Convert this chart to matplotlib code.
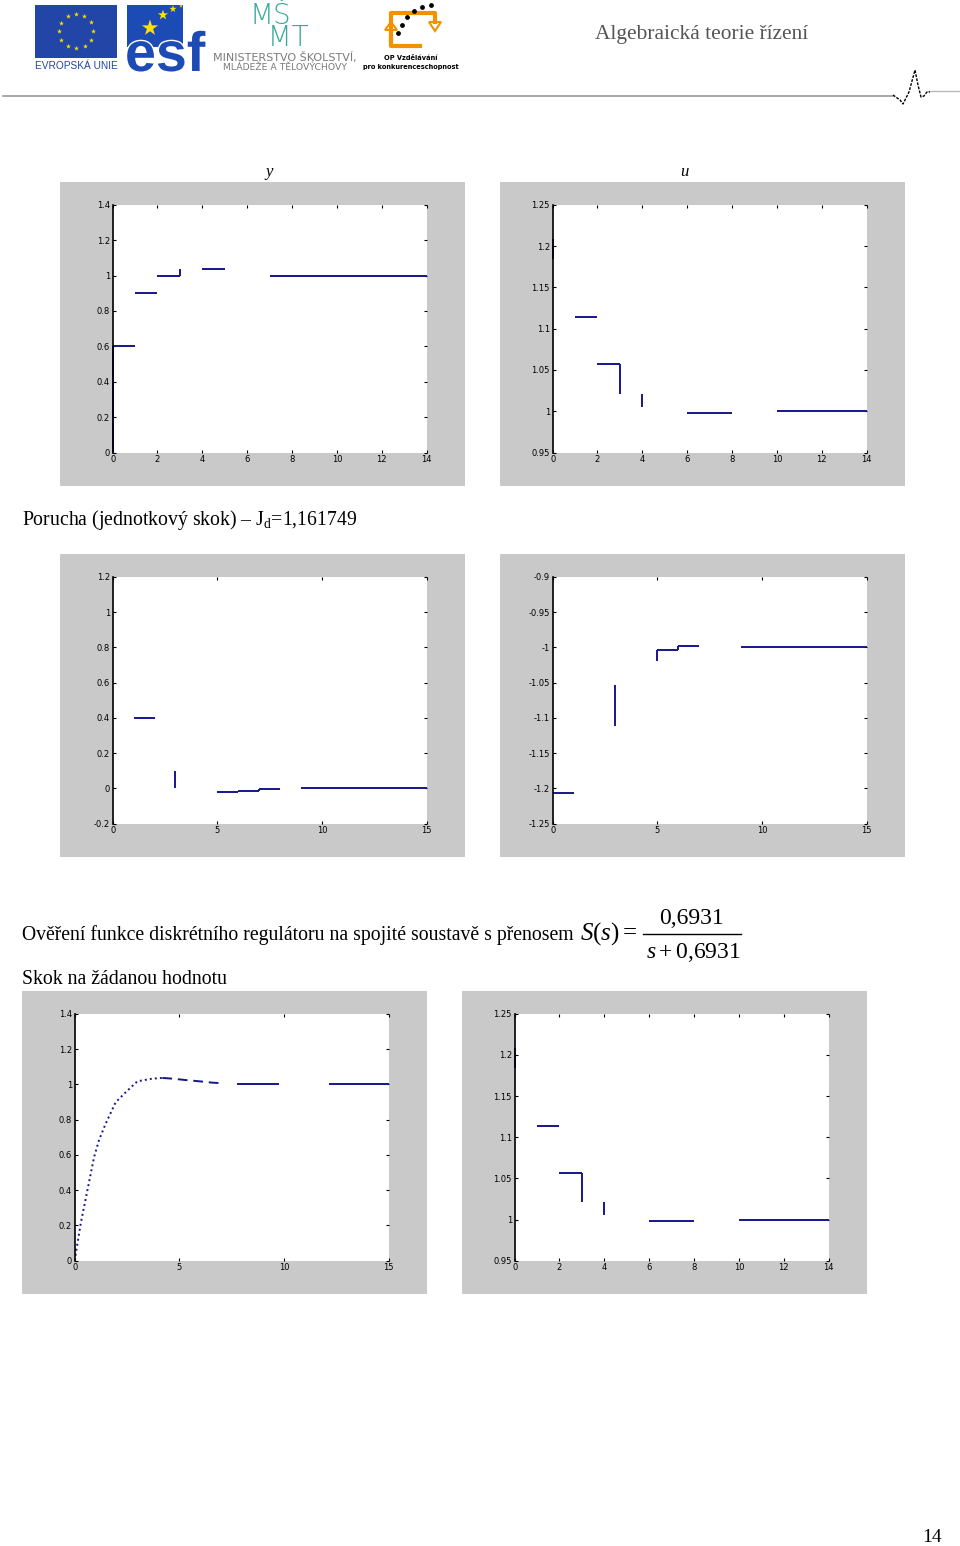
import numpy as np
import matplotlib
matplotlib.use("Agg")
import matplotlib.pyplot as plt
from matplotlib.patches import Rectangle, Polygon
from matplotlib.ticker import FuncFormatter
import matplotlib.patheffects as pe

plt.rcParams["mathtext.fontset"] = "custom"
plt.rcParams["mathtext.rm"] = "Liberation Serif"
plt.rcParams["mathtext.it"] = "Liberation Serif:italic"

nan = np.nan

# ---- discrete signals, value held on [k, k+1); nan = segment not visible in the scan ----
STEP_Y = [0.6, 0.9, 1.0, nan, 1.035, nan, nan, 1.0, 1.0, 1.0, 1.0, 1.0, 1.0, 1.0]
STEP_Y_JUMPS = [(0, 0.0, 0.6), (3, 1.0, 1.035)]
STEP_U = [nan, 1.114, 1.057, nan, nan, nan, 0.998, 0.998, nan, nan, 1.0, 1.0, 1.0, 1.0]
STEP_U_JUMPS = [(0, 1.184, 1.208), (3, 1.021, 1.057), (4, 1.005, 1.021)]
DIST_Y = [nan, 0.4, nan, nan, nan, -0.02, -0.012, -0.004, nan, 0.0, 0.0, 0.0, 0.0, 0.0, 0.0]
DIST_Y_JUMPS = [(3, 0.0, 0.1), (6, -0.02, -0.012), (7, -0.012, -0.004)]
DIST_U = [-1.207, nan, nan, nan, nan, -1.0045, -0.998, nan, nan, -1.0, -1.0, -1.0, -1.0, -1.0, -1.0]
DIST_U_JUMPS = [(3, -1.112, -1.054), (5, -1.02, -1.0045), (6, -1.0045, -0.998)]

# ---- continuous plant output for the setpoint step ----
CONT_T = [0, 0.29, 0.61, 0.93, 1.16, 1.48, 1.96, 2.44, 3.0, 3.72, 4.19,
          4.67, 5.3, 5.95, 6.6, 7.06, 7.8, 9.7, 12.2, 15]
CONT_Y = [0, 0.211, 0.399, 0.588, 0.682, 0.776, 0.898, 0.955, 1.017, 1.032, 1.036,
          1.032, 1.024, 1.017, 1.009, 1.006, 1.0, 1.0, 1.0, 1.0]

# ---- ticks ----
X_TICKS_14 = [0, 2, 4, 6, 8, 10, 12, 14]
X_TICKS_15 = [0, 5, 10, 15]
Y_TICKS_Y = [0, 0.2, 0.4, 0.6, 0.8, 1.0, 1.2, 1.4]
Y_TICKS_U = [0.95, 1.0, 1.05, 1.1, 1.15, 1.2, 1.25]
Y_TICKS_DY = [-0.2, 0, 0.2, 0.4, 0.6, 0.8, 1.0, 1.2]
Y_TICKS_DU = [-1.25, -1.2, -1.15, -1.1, -1.05, -1.0, -0.95, -0.9]

W, H = 960, 1546
GRAY = "#c9c9c9"
BLUE = "#16168c"
SERIF = "Liberation Serif"

fig = plt.figure(figsize=(W / 100, H / 100), dpi=100)
page = fig.add_axes([0, 0, 1, 1])
page.set_xlim(0, W)
page.set_ylim(H, 0)
page.axis("off")


def matlab_axes(x0, y0, xticks, yticks, w=405, h=304):
    page.add_patch(Rectangle((x0, y0), w, h, color=GRAY, lw=0, zorder=0))
    ax = fig.add_axes([(x0 + 0.13 * w) / W, 1 - (y0 + 0.89 * h) / H,
                       0.775 * w / W, 0.815 * h / H])
    ax.set_xlim(xticks[0], xticks[-1])
    ax.set_ylim(yticks[0], yticks[-1])
    ax.set_xticks(xticks)
    ax.set_yticks(yticks)
    fmt = FuncFormatter(lambda v, p: f"{round(v, 4):g}")
    ax.xaxis.set_major_formatter(fmt)
    ax.yaxis.set_major_formatter(fmt)
    for s in ["top", "right", "bottom"]:
        ax.spines[s].set_visible(False)
    ax.spines["left"].set_linewidth(1.2)
    ax.tick_params(direction="in", length=2.5, width=0.8, labelsize=6, pad=2,
                   top=True, right=True)
    return ax


def draw_steps(ax, vals, jumps):
    for k, v in enumerate(vals):
        if not np.isnan(v):
            ax.hlines(v, k, k + 1, color=BLUE, lw=1.4, clip_on=False)
    for t, a, b in jumps:
        ax.vlines(t, a, b, color=BLUE, lw=1.4, clip_on=False)


# ---- row 1: setpoint step ----
ax1 = matlab_axes(60, 182, X_TICKS_14, Y_TICKS_Y)
draw_steps(ax1, STEP_Y, STEP_Y_JUMPS)
ax2 = matlab_axes(500, 182, X_TICKS_14, Y_TICKS_U)
draw_steps(ax2, STEP_U, STEP_U_JUMPS)

# ---- row 2: disturbance ----
ax3 = matlab_axes(60, 554, X_TICKS_15, Y_TICKS_DY, h=303)
draw_steps(ax3, DIST_Y, DIST_Y_JUMPS)
ax4 = matlab_axes(500, 554, X_TICKS_15, Y_TICKS_DU, h=303)
draw_steps(ax4, DIST_U, DIST_U_JUMPS)

# ---- row 3: continuous plant ----
ax5 = matlab_axes(22, 991, X_TICKS_15, Y_TICKS_Y, h=303)
ax5.plot(CONT_T[:11], CONT_Y[:11], color=BLUE, lw=1.4, ls=(0, (1, 1.6)))
ax5.plot(CONT_T[10:16], CONT_Y[10:16], color=BLUE, lw=1.4, ls=(0, (5, 3)))
ax5.plot(CONT_T[16:18], CONT_Y[16:18], color=BLUE, lw=1.4)
ax5.plot(CONT_T[18:], CONT_Y[18:], color=BLUE, lw=1.4)
ax6 = matlab_axes(462, 991, X_TICKS_14, Y_TICKS_U, h=303)
draw_steps(ax6, STEP_U, STEP_U_JUMPS)

# ---- page header ----
page.add_patch(Rectangle((35, 5), 82, 53, color="#2146a8", lw=0))
ang = np.linspace(0, 2 * np.pi, 13)[:-1]
page.scatter(76 + 17 * np.cos(ang), 31 + 17 * np.sin(ang), marker="*", s=14,
             color="#ffe000", lw=0, zorder=3)
page.text(76, 66, "EVROPSKÁ UNIE", color="#2146a8", fontsize=7.3,
          ha="center", va="center", family="Liberation Sans")
page.add_patch(Rectangle((127, 5), 56, 42, color="#1d4bb5", lw=0))
page.text(125, 71, "esf", color="#1d4bb5", fontsize=40, weight="bold",
          family="Liberation Sans", ha="left", va="baseline",
          path_effects=[pe.withStroke(linewidth=2, foreground="white")])
page.scatter([150, 163, 173, 181], [28, 15, 9, 6], marker="*", s=[150, 60, 30, 8],
             color="#ffe000", lw=0, zorder=3)
page.text(250, 27, "MŠ\n  MT", color="#3aa99c", fontsize=20, ha="left", va="center",
          family="DejaVu Sans", weight="light", linespacing=0.72)
page.text(285, 58, "MINISTERSTVO ŠKOLSTVÍ,", color="#7a7a7a", fontsize=8,
          ha="center", va="center", family="DejaVu Sans")
page.text(285, 67.5, "MLÁDEŽE A TĚLOVÝCHOVY", color="#7a7a7a", fontsize=6.7,
          ha="center", va="center", family="DejaVu Sans")
page.plot([391, 391, 435, 435], [40, 13, 13, 22], color="#f39200", lw=3)
page.plot([391, 391, 420], [40, 46, 46], color="#f39200", lw=3)
page.add_patch(Polygon([[385, 30], [397, 30], [391, 22]], closed=True,
                       fc="white", ec="#f39200", lw=1.5))
page.add_patch(Polygon([[429, 22], [441, 22], [435, 31]], closed=True,
                       fc="white", ec="#f39200", lw=1.5))
page.scatter([398, 402, 407, 414, 422, 431], [33, 25, 17, 11, 7, 5],
             s=6, color="black", zorder=3)
page.text(411, 58, "OP Vzdělávání", fontsize=4.8, weight="bold",
          ha="center", va="center")
page.text(411, 67, "pro konkurenceschopnost", fontsize=4.8, weight="bold",
          ha="center", va="center")
page.text(595, 34, "Algebraická teorie řízení", color="#555555", fontsize=15.4,
          family=SERIF, ha="left", va="center")
page.plot([3, 893], [95.5, 95.5], color="#9a9a9a", lw=1.2)
page.plot([928, 960], [91, 91], color="#bbbbbb", lw=1)
page.plot([893, 900, 903, 909, 915, 918, 921, 924, 927, 930],
          [95, 100, 104, 92, 70, 85, 97, 96, 92, 92], color="black", lw=1, ls=(0, (2, 1)))

# ---- page text ----
page.text(269, 172, "y", fontsize=12, style="italic", family=SERIF, ha="center", va="center")
page.text(684, 172, "u", fontsize=12, style="italic", family=SERIF, ha="center", va="center")
page.text(22, 520, r"Porucha (jednotkový skok) – J$_\mathrm{d}$=1,161749", fontsize=14.2,
          family=SERIF, ha="left", va="center")
page.text(22, 935, "Ověření funkce diskrétního regulátoru na spojité soustavě s přenosem",
          fontsize=14.2, family=SERIF, ha="left", va="center")
page.text(580, 934, r"$S(s) =$", fontsize=18, ha="left", va="center")
page.text(692, 918, "0,6931", fontsize=17, family=SERIF, ha="center", va="center")
page.plot([643, 741], [934, 934], color="black", lw=1)
page.text(693, 952, r"$s + 0{,}6931$", fontsize=17, ha="center", va="center")
page.text(22, 979, "Skok na žádanou hodnotu", fontsize=14.2, family=SERIF,
          ha="left", va="center")
page.text(932, 1537, "14", fontsize=14, family=SERIF, ha="center", va="center")

fig.savefig("out.png", dpi=100)
